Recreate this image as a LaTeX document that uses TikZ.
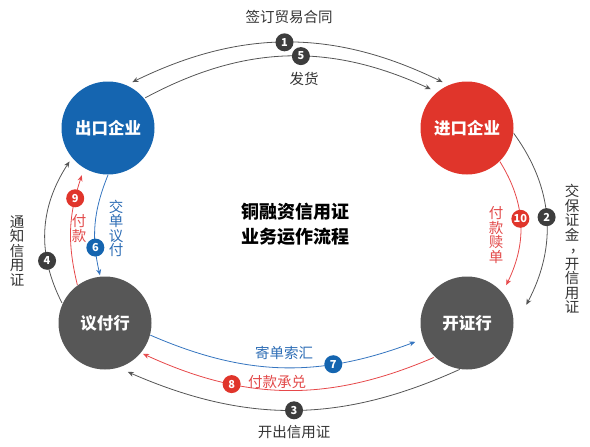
\documentclass[tikz,border=0pt]{standalone}
\usepackage{fontspec}
\setmainfont{Noto Sans CJK SC}
\usetikzlibrary{arrows.meta,calc}
\definecolor{cblue}{HTML}{1565B0}
\definecolor{cred}{HTML}{E0352B}
\definecolor{cgray}{HTML}{575757}
\definecolor{bgray}{HTML}{3D3D3D}
\definecolor{lgray}{HTML}{555555}
\definecolor{lred}{HTML}{E6484A}
\definecolor{lblue}{HTML}{3575C0}
\definecolor{tgray}{HTML}{333333}
\definecolor{tred}{HTML}{E24A4A}
\definecolor{tblue}{HTML}{2D6DB5}
\begin{document}
\begin{tikzpicture}[x=1pt,y=-1pt,
  party/.style={circle, minimum size=93pt, inner sep=0pt, text=white, font=\fontsize{16.5}{18}\selectfont\bfseries},
  badge/.style={circle, minimum size=18pt, inner sep=0pt, text=white, font=\fontsize{11}{11}\selectfont\bfseries},
  flow/.style={line width=0.8pt, -{Stealth[length=6pt,width=5pt]}},
  lbl/.style={font=\fontsize{14.5}{14.5}\selectfont, inner sep=0pt},
  vlbl/.style={lbl, align=center},
]
\useasboundingbox (0,0) rectangle (590,447);
\node[party, fill=cblue] (A) at (108,128) {出口企业};
\node[party, fill=cred] (B) at (467,128) {进口企业};
\node[party, fill=cgray] (C) at (105,323) {议付行};
\node[party, fill=cgray] (D) at (467,323) {开证行};

\node[font=\fontsize{18}{25}\selectfont\bfseries, align=center, text=black] (title) at (295,224.5) {铜融资信用证\\业务运作流程};

% top
\draw[flow, lgray, {Stealth[length=6pt,width=5pt]}-{Stealth[length=6pt,width=5pt]}] ($(A)+(62:52pt)$) to[bend left=26] node[badge, fill=bgray, pos=0.49]{1} ($(B)+(118:52pt)$);
\draw[flow, lgray] ($(A)+(39:48pt)$) to[bend left=26.5] node[badge, fill=bgray, pos=0.55]{5} ($(B)+(133:53pt)$);
% right
\draw[flow, lgray] ($(B)+(-6.5:47pt)$) to[bend left=32] node[badge, fill=bgray, pos=0.5]{2} ($(D)+(17:62pt)$);
\draw[flow, lred] ($(B)+(-45.6:47pt)$) to[bend left=29] node[badge, fill=cred, pos=0.47]{10} ($(D)+(44:54.5pt)$);
% bottom
\draw[flow, lgray] ($(D)+(-99:47pt)$) to[bend left=24] node[badge, fill=bgray, pos=0.5]{3} ($(C)+(-65:54pt)$);
\draw[flow, lred] ($(D)+(-134:48pt)$) to[bend left=24] node[badge, fill=cred, pos=0.70]{8} ($(C)+(-39:49pt)$);
\draw[flow, lblue] ($(C)+(-15:47pt)$) to[bend right=22] node[badge, fill=cblue, pos=0.70]{7} ($(D)+(-160:55pt)$);
% left
\draw[flow, lgray] ($(C)+(155:47.5pt)$) to[bend left=30] node[badge, fill=bgray, pos=0.29]{4} ($(A)+(221:51pt)$);
\draw[flow, lred] ($(C)+(126:47pt)$) to[bend left=16] node[badge, fill=cred, pos=0.80]{9} ($(A)+(241:54pt)$);
\draw[flow, lblue] ($(A)+(-90:47pt)$) to[bend right=17.5] node[badge, fill=cblue, pos=0.74]{6} ($(C)+(96:48pt)$);

% labels
\node[lbl, text=tgray] (l1) at (289,17) {签订贸易合同};
\node[lbl, text=tgray] (l5) at (304,79) {发货};
\node[lbl, text=tblue] (l7) at (284,353) {寄单索汇};
\node[lbl, text=tred] (l8) at (277,382) {付款承兑};
\node[lbl, text=tgray] (l3) at (294,432) {开出信用证};
\node[vlbl, text=tgray] (l4) at (17,251) {通\\知\\信\\用\\证};
\node[vlbl, text=tred] (l9) at (79,228.5) {付\\款};
\node[vlbl, text=tblue] (l6) at (116,228.5) {交\\单\\议\\付};
\node[vlbl, text=tred] (l10) at (496,235) {付\\款\\赎\\单};
\node[vlbl, text=tgray] (l2) at (572,249) {交\\保\\证\\金\\\makebox[1em][l]{\hspace{0.35em}\raisebox{0.15em}{，}}\\开\\信\\用\\证};
\end{tikzpicture}
\end{document}
